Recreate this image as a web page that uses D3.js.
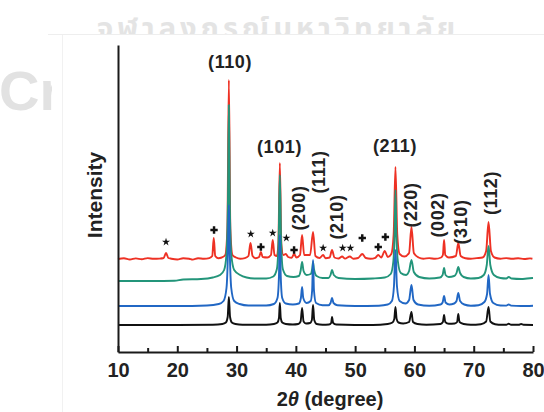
<!DOCTYPE html>
<html>
<head>
<meta charset="utf-8">
<script src="https://cdn.jsdelivr.net/npm/d3@7"></script>
<style>
  html, body { margin: 0; padding: 0; background: #fff; }
  svg { display: block; }
  text { font-family: "Liberation Sans", Arial, Helvetica, sans-serif; }
</style>
</head>
<body>
<svg id="chart" width="544" height="412"></svg>
<script>
// XRD patterns: [2θ (deg), intensity above each trace's own baseline]
const blackPattern = [
  [10,0],[20,0],[26,0.3],[27.6,1],[28.2,2.5],[28.5,8],[28.7,28],[28.9,8],[29.2,2.5],[29.8,1],[31,0.3],
  [35,0.3],[36.3,1],[36.9,2.5],[37.15,7],[37.3,22],[37.45,7],[37.7,2.5],[38.3,1],[39.5,0.5],
  [40.4,1],[40.8,3.5],[41.05,17],[41.3,3.5],[41.7,1.5],[42.4,2],[42.7,5],[42.9,20],[43.1,5],[43.5,1],[44.5,0.3],
  [45.6,0.5],[45.95,2],[46.1,8],[46.3,2],[46.8,0.5],
  [53,0],[55.5,1],[56.3,2.5],[56.6,6],[56.8,18],[57.0,6],[57.3,2.5],[58.1,1.5],
  [59.1,3],[59.5,13],[59.75,3],[60.5,1],[62,0.2],
  [64.4,1],[64.8,3],[65.0,10],[65.2,3],[65.8,1.2],
  [66.8,1.5],[67.2,3],[67.4,11],[67.6,3],[68.3,1],[69.5,0.2],
  [71.2,0.8],[72.1,3.5],[72.5,18],[72.8,3.5],[73.6,0.8],[74.8,0.2],
  [75.5,0.3],[75.9,1.2],[76.3,0.3],[77.6,0.2],[78.0,1],[78.4,0.2],[80,0]
];

const bluePattern = [
  [10,0],[20,0],[25,0.5],[27,2],[27.8,5],[28.3,18],[28.55,55],[28.7,101],[28.85,55],[29.1,18],[29.6,5],[30.5,2],[32,0.5],
  [35,0.5],[36.3,2],[36.9,8],[37.15,30],[37.3,71],[37.45,30],[37.7,8],[38.3,2.5],[39.5,1.5],
  [40.5,2.5],[40.85,8],[41.05,19],[41.25,8],[41.8,3],[42.5,5],[42.75,16],[42.9,46],[43.05,16],[43.4,3],[44.5,0.8],
  [45.5,0.8],[45.85,3],[46.1,8],[46.35,3],[47,0.8],
  [50,0],[54,0.3],[55.5,1.5],[56.2,5],[56.55,20],[56.8,56],[57.05,20],[57.5,5],[58.5,2.5],
  [59.1,6],[59.5,21],[59.85,6],[60.6,1.5],[62.5,0.3],
  [64.4,1.5],[64.75,3.5],[65.0,10],[65.25,3.5],[65.9,1.5],
  [66.7,2.5],[67.1,5],[67.4,13],[67.7,5],[68.4,1.5],[69.5,0.3],
  [70.8,0.8],[71.8,4],[72.25,12],[72.5,31],[72.75,12],[73.3,3],[74.5,0.5],
  [75.5,0.4],[75.9,1.5],[76.3,0.4],[78,0],[80,0.3]
];

const greenPattern = [
  [10,-2],[15,-2],[19.5,-1.8],[21,-0.5],[24,0],[26,1.5],[27.2,4],[27.9,9],[28.3,25],[28.55,80],[28.7,174],[28.85,80],[29.1,25],[29.6,9],[30.6,4],[31.7,1.5],[33,0.5],
  [35,0.5],[36.2,2.5],[36.8,10],[37.1,40],[37.3,104],[37.5,40],[37.8,10],[38.5,3],[39.6,2],
  [40.5,3],[40.8,8],[41.05,17],[41.3,8],[41.8,4],[42.5,5],[42.75,10],[42.9,17],[43.05,10],[43.5,3],[44.5,1],
  [45.5,1],[45.85,4],[46.1,9],[46.4,4],[47.2,1],
  [50,0],[53,0.5],[55,1.5],[56,5],[56.45,18],[56.65,45],[56.8,89],[56.95,45],[57.2,18],[57.7,6],[58.6,4],
  [59.1,8],[59.5,19],[59.9,7],[60.8,2],[62.5,0.5],
  [64.3,1.5],[64.75,4],[65.0,11],[65.25,4],[65.8,2],
  [66.7,3],[67.1,6],[67.4,12],[67.7,6],[68.3,2],[69.5,0.5],
  [70.8,1],[71.7,4],[72.2,14],[72.5,33],[72.8,14],[73.4,4],[74.5,1],
  [75.5,0.5],[75.9,2],[76.4,0.5],[78,0],[79,0.5],[80,1]
];

const redPattern = [
  [10,0],[11,0.8],[12,-0.5],[13,0.6],[14,-0.3],[15,0.9],[16,0.2],[17,0.4],[17.7,1],[18.1,6],[18.5,1],[19,0.3],
  [20,-0.5],[21,0.8],[22,0.3],[22.6,-0.6],[23.5,0.7],[24.5,0.2],[25.4,0.9],[25.9,3],[26.15,21],[26.4,3],[26.9,0.8],
  [27.5,1.5],[28.1,4],[28.45,30],[28.7,179],[28.95,30],[29.3,4],[29.9,1.5],[30.6,0.3],[31.4,0.9],
  [32.0,3],[32.35,16],[32.7,3],[33.2,0.8],[33.8,2],[34.1,7],[34.4,2],[35.2,1.5],[35.8,4],[36.1,19],[36.4,4],
  [36.8,3],[37.05,15],[37.3,96],[37.55,15],[37.9,4],[38.3,5],[38.7,2],[39.3,1.2],[39.7,5],[40.1,1.5],
  [40.7,4],[41.05,24],[41.4,4],[42.4,4],[42.9,27],[43.3,3],[44,1],[44.6,4],[45,0.8],
  [45.7,1.5],[46.1,9],[46.5,1.5],[47.2,0.5],[47.8,2.5],[48.3,0.4],[49.1,2.5],[49.7,0.3],
  [50.5,1],[51.2,5],[51.8,1],[52.6,0.3],[53.4,1.2],[53.9,4],[54.4,1.5],[55.0,8],[55.5,2],
  [56.1,5],[56.5,25],[56.8,92],[57.1,25],[57.5,5],[58.3,2.5],[59.1,6],[59.5,32],[59.9,6],[60.7,1.5],
  [61.5,0.3],[62.5,0.9],[63.5,0.2],[64.5,1.5],[64.8,4],[65.0,19],[65.2,4],[65.8,1.5],
  [67,3],[67.4,16],[67.8,3],[68.6,0.8],[69.5,0.3],[70.5,0.9],[71.5,1.5],[72.1,8],[72.5,37],[72.9,8],
  [73.5,1.5],[74.5,0.3],[75.5,0.9],[76.5,0.2],[77.5,0.7],[78.5,0],[79.5,0.6],[79.9,0.3]
];

// vertical stacking offsets of the traces (same intensity units)
const traceNames   = ["red", "green", "blue", "black"];
const traceOffsets = [93, 73, 46, 27];
const tracePatterns = [redPattern, greenPattern, bluePattern, blackPattern];

// impurity reflections marked on the top trace: [2θ, intensity]
const starMarks = [[18.1,110],[32.4,118],[36.1,119],[38.4,114],[44.6,104],[47.9,104],[49.2,104]];
const plusMarks = [[26.2,122],[34.1,105],[39.7,102],[51.2,114],[53.9,105],[55.1,115]];

// Miller-index labels
const hklText   = ["(110)","(101)","(211)","(200)","(111)","(210)","(220)","(002)","(310)","(112)"];
const hklAngle  = [28.9, 37.24, 56.72, 40.44, 43.9, 46.94, 59.42, 63.97, 67.85, 72.91];
const hklLevel  = [290, 205, 206, 144, 180, 135, 147, 137, 130, 159];
const hklUpright = [true, true, true, false, false, false, false, false, false, false];

const majorTicks = [10, 20, 30, 40, 50, 60, 70, 80];
const minorTicks = [15, 25, 35, 45, 55, 65, 75];

// ---- drawing ----
const colors = { red: "#ee3124", green: "#23957a", blue: "#2167c4", black: "#111111" };
const svg = d3.select("#chart");

const x = d3.scaleLinear().domain([10, 80]).range([118, 533]);
const y = d3.scaleLinear().domain([0, 307]).range([352, 45]);

// faint background lettering around the figure
const defs = svg.append("defs");
defs.append("clipPath").attr("id", "clipTop")
  .append("rect").attr("x", 0).attr("y", 0).attr("width", 544).attr("height", 34);
defs.append("clipPath").attr("id", "clipLeft")
  .append("rect").attr("x", 0).attr("y", 0).attr("width", 52).attr("height", 412);

svg.append("text")
  .attr("clip-path", "url(#clipTop)")
  .attr("x", 97).attr("y", 38)
  .attr("textLength", 358)
  .style("font-family", "'Noto Sans Thai', 'Noto Sans', 'DejaVu Sans', sans-serif")
  .style("font-size", "29px").style("font-weight", "bold")
  .attr("fill", "#e4e4e4")
  .text("จุฬาลงกรณ์มหาวิทยาลัย");

svg.append("text")
  .attr("clip-path", "url(#clipLeft)")
  .attr("x", -1).attr("y", 110)
  .style("font-size", "56px").style("font-weight", "bold")
  .attr("fill", "#e2e2e2")
  .text("Cr");

svg.append("line").attr("x1", 48).attr("x2", 544).attr("y1", 34.5).attr("y2", 34.5)
  .attr("stroke", "#eeeeee").attr("stroke-width", 1);
svg.append("line").attr("x1", 62.5).attr("x2", 62.5).attr("y1", 35).attr("y2", 412)
  .attr("stroke", "#f1f1f1").attr("stroke-width", 1);

// traces, back to front
const traces = svg.append("g");
traceNames.forEach((name, i) => {
  const off = traceOffsets[i];
  const line = d3.line()
    .x(d => x(d[0]))
    .y(d => y(d[1] + off))
    .curve(d3.curveMonotoneX);
  traces.append("path")
    .datum(tracePatterns[i])
    .attr("d", line)
    .attr("fill", "none")
    .attr("stroke", colors[name])
    .attr("stroke-width", 1.9)
    .attr("stroke-linejoin", "round");
});

// axes
const xAxis = d3.axisBottom(x).tickValues(majorTicks).tickFormat(d3.format("d"))
  .tickSizeInner(-6).tickSizeOuter(0).tickPadding(11);
const gx = svg.append("g").attr("transform", "translate(0,352)").call(xAxis);
gx.select(".domain").attr("stroke", "#1a1a1a").attr("stroke-width", 2);
gx.selectAll(".tick line").attr("stroke", "#1a1a1a").attr("stroke-width", 2);
gx.selectAll(".tick text")
  .style("font-size", "20px").style("font-weight", "bold").attr("fill", "#222");

const xMinor = d3.axisBottom(x).tickValues(minorTicks).tickFormat("")
  .tickSizeInner(-4).tickSizeOuter(0);
const gxm = svg.append("g").attr("transform", "translate(0,352)").call(xMinor);
gxm.select(".domain").remove();
gxm.selectAll(".tick line").attr("stroke", "#1a1a1a").attr("stroke-width", 2);

const yAxis = d3.axisLeft(y).tickValues([]).tickSizeOuter(0);
const gy = svg.append("g").attr("transform", "translate(118,0)").call(yAxis);
gy.select(".domain").attr("stroke", "#1a1a1a").attr("stroke-width", 2);

// axis titles
const xTitle = svg.append("text")
  .attr("x", 330).attr("y", 406)
  .attr("text-anchor", "middle")
  .style("font-size", "20px").style("font-weight", "bold").attr("fill", "#222");
xTitle.append("tspan").text("2");
xTitle.append("tspan").style("font-style", "italic").text("θ");
xTitle.append("tspan").text(" (degree)");

svg.append("text")
  .attr("transform", "translate(102,195) rotate(-90)")
  .attr("text-anchor", "middle")
  .style("font-size", "21px").style("font-weight", "bold").attr("fill", "#222")
  .text("Intensity");

// impurity markers
const marks = svg.append("g");
marks.selectAll("path.star").data(starMarks).join("path")
  .attr("class", "star")
  .attr("transform", d => `translate(${x(d[0])},${y(d[1])})`)
  .attr("d", d3.symbol(d3.symbolStar, 20))
  .attr("fill", "#111");
marks.selectAll("path.plus").data(plusMarks).join("path")
  .attr("class", "plus")
  .attr("transform", d => `translate(${x(d[0])},${y(d[1])})`)
  .attr("d", d3.symbol(d3.symbolCross, 30))
  .attr("fill", "#111");

// Miller-index labels
const labels = svg.append("g");
hklText.forEach((t, i) => {
  const px = x(hklAngle[i]), py = y(hklLevel[i]);
  labels.append("text")
    .attr("transform", hklUpright[i] ? `translate(${px},${py})` : `translate(${px},${py}) rotate(-90)`)
    .attr("text-anchor", "middle")
    .attr("dy", "0.35em")
    .style("font-size", "18px").style("font-weight", "bold")
    .style("letter-spacing", "0.6px")
    .attr("fill", "#222")
    .text(t);
});
</script>
</body>
</html>
